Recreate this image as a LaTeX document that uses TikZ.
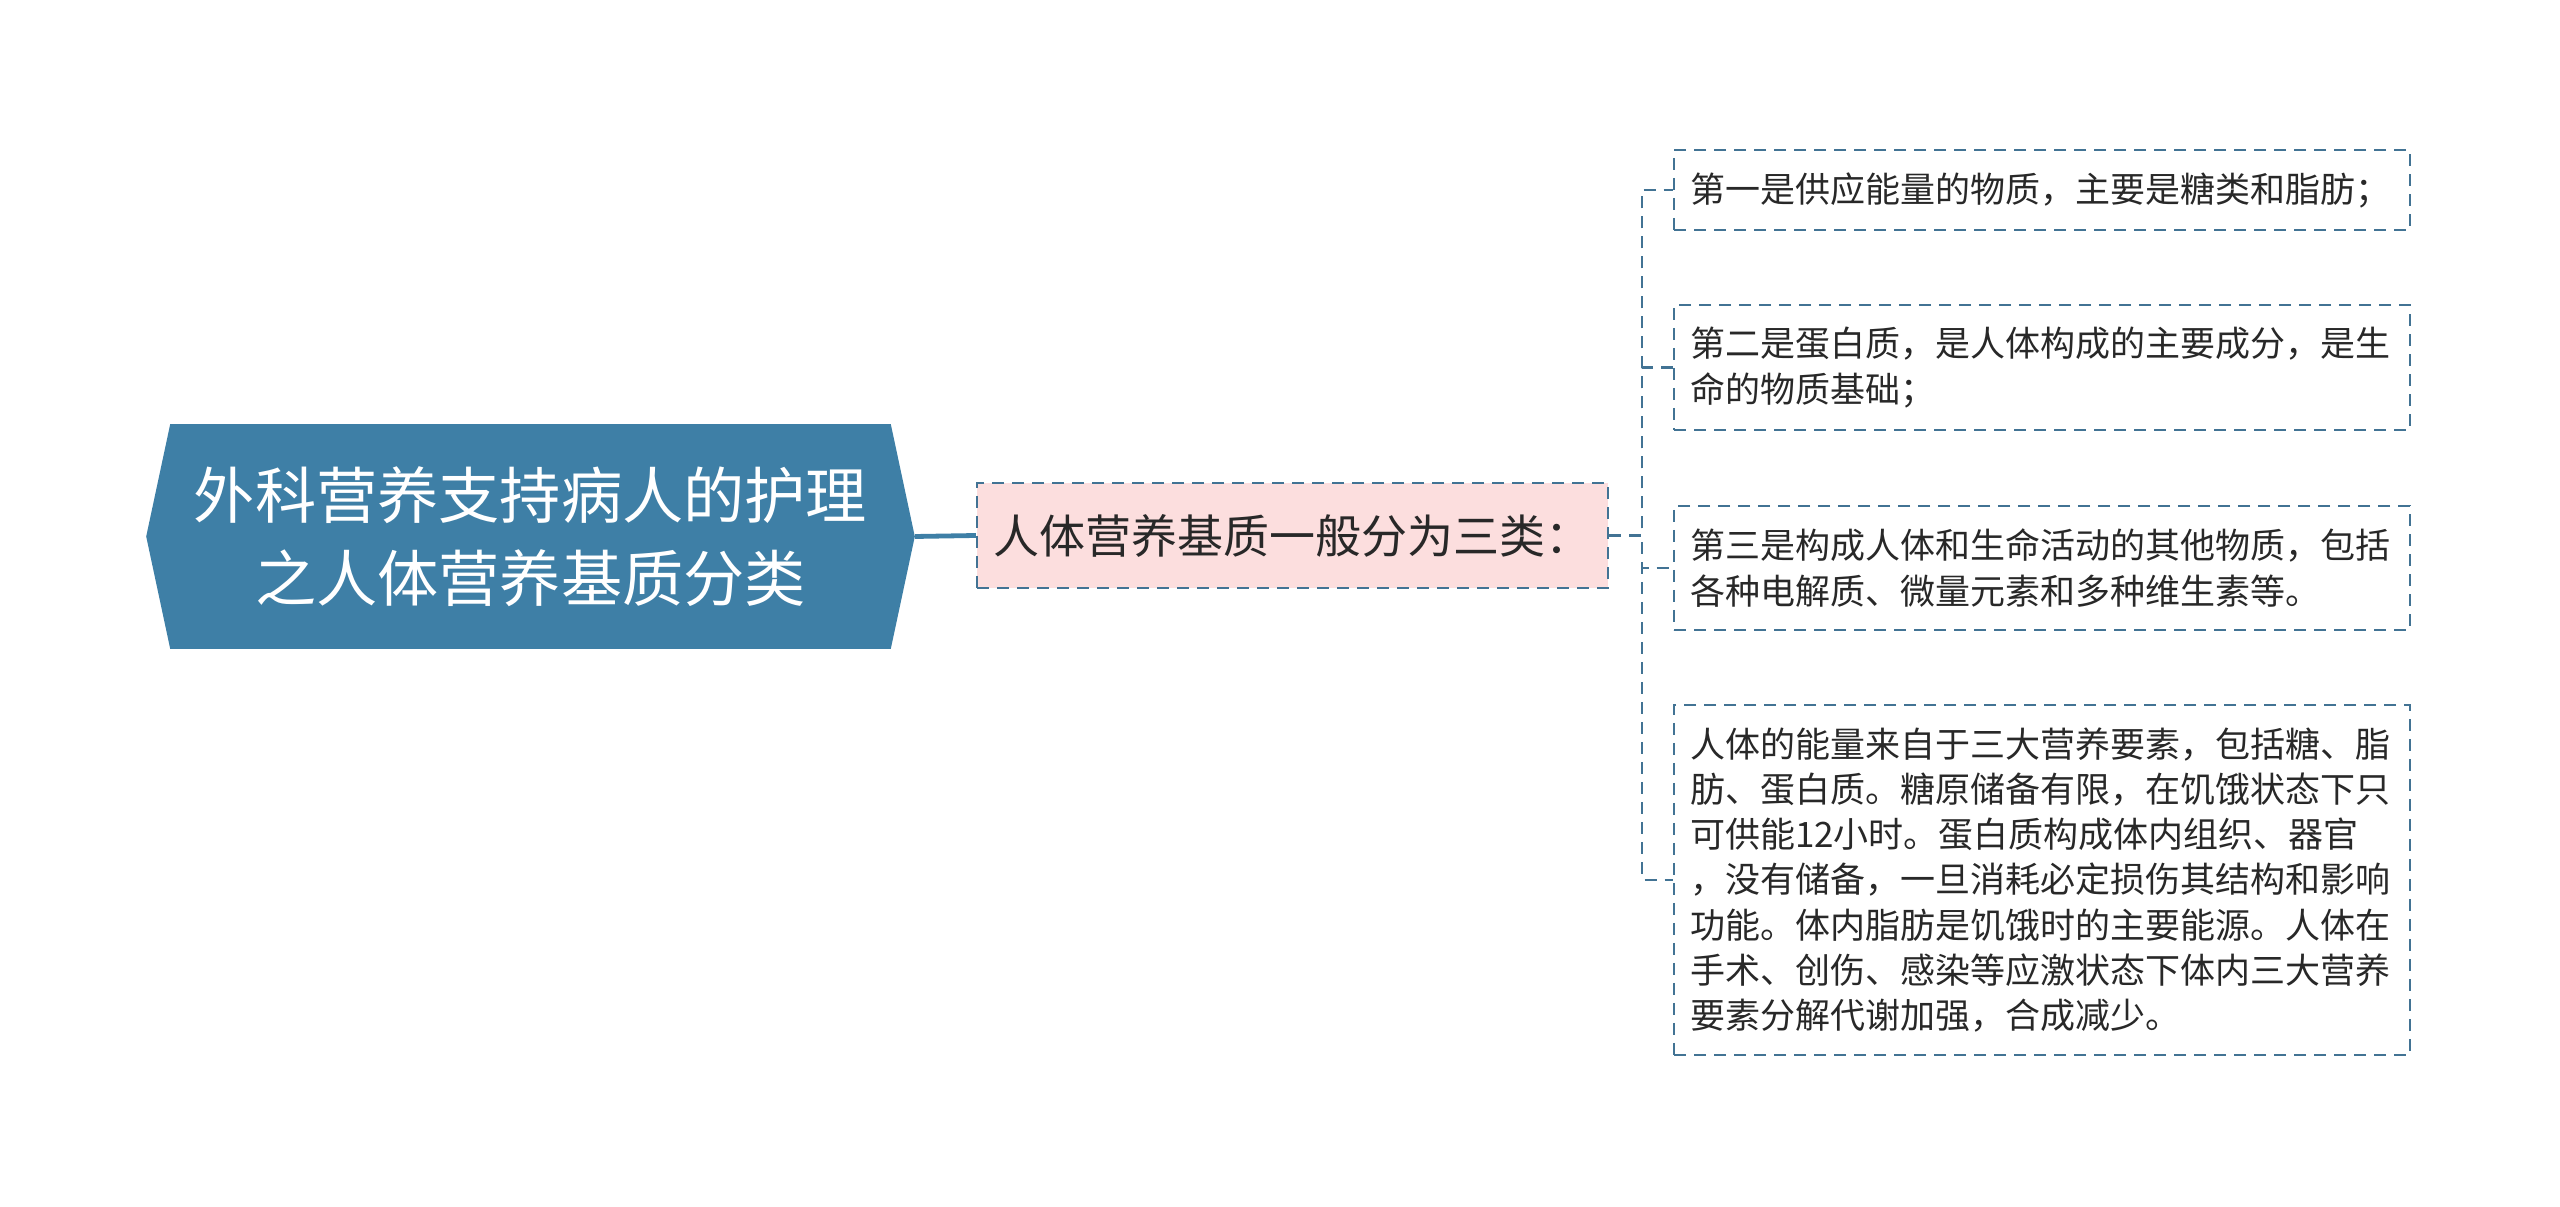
\documentclass[tikz,border=0pt]{standalone}
\usepackage{fontspec}
\setmainfont{Noto Sans CJK SC}
\usepackage{tikz}
\usetikzlibrary{backgrounds}
\definecolor{rootblue}{RGB}{62,127,166}
\definecolor{linkblue}{RGB}{66,115,148}
\definecolor{kindpink}{RGB}{252,222,222}
\definecolor{txtgray}{RGB}{40,40,40}

\begin{document}
\begin{tikzpicture}[x=0.25pt,y=-0.25pt,
    rootbox/.style={minimum width=191.75pt,minimum height=55.75pt,inner sep=0pt,text=white,align=center,font=\fontsize{15.3}{20.6}\selectfont},
    kindbox/.style={draw=linkblue,fill=kindpink,dash pattern=on 3pt off 2pt,line width=0.6pt,minimum width=157.75pt,minimum height=26.25pt,inner sep=0pt,text=txtgray,font=\fontsize{11.5}{13}\selectfont},
    leafbox/.style={draw=linkblue,dash pattern=on 3pt off 2pt,line width=0.6pt,text width=176pt,inner xsep=4pt,inner ysep=2pt,align=left,text=txtgray,font=\fontsize{8.75}{11.3}\selectfont},
    link/.style={linkblue,line width=0.6pt,dash pattern=on 3pt off 2pt}]
 \useasboundingbox (0,0) rectangle (2560,1207);
 \node[rootbox] (root) at (530.5,536.5) {外科营养支持病人的护理\\之人体营养基质分类};
 \begin{scope}[on background layer]
  \fill[rootblue] (root.west) -- ([xshift=6pt]root.north west) -- ([xshift=-6pt]root.north east)
     -- (root.east) -- ([xshift=-6pt]root.south east) -- ([xshift=6pt]root.south west) -- cycle;
 \end{scope}
 \node[kindbox] (kind) at (1292.5,535.5) {人体营养基质一般分为三类：};
 \node[leafbox,minimum height=20pt] (leaf1) at (2042,190) {第一是供应能量的物质，主要是糖类和脂肪；};
 \node[leafbox,minimum height=31.25pt] (leaf2) at (2042,367.5) {第二是蛋白质，是人体构成的主要成分，是生\\命的物质基础；};
 \node[leafbox,minimum height=31pt] (leaf3) at (2042,568) {第三是构成人体和生命活动的其他物质，包括\\各种电解质、微量元素和多种维生素等。};
 \node[leafbox,minimum height=87.5pt] (leaf4) at (2042,880) {人体的能量来自于三大营养要素，包括糖、脂\\肪、蛋白质。糖原储备有限，在饥饿状态下只\\可供能12小时。蛋白质构成体内组织、器官\\，没有储备，一旦消耗必定损伤其结构和影响\\功能。体内脂肪是饥饿时的主要能源。人体在\\手术、创伤、感染等应激状态下体内三大营养\\要素分解代谢加强，合成减少。};
 \draw[rootblue,line width=1.2pt] (root.east) -- (kind.west);
 \foreach \leaf in {leaf1,leaf2,leaf3,leaf4}
  \draw[link] (kind.east) -- ++(8.25pt,0) |- (\leaf.west);
\end{tikzpicture}
\end{document}
